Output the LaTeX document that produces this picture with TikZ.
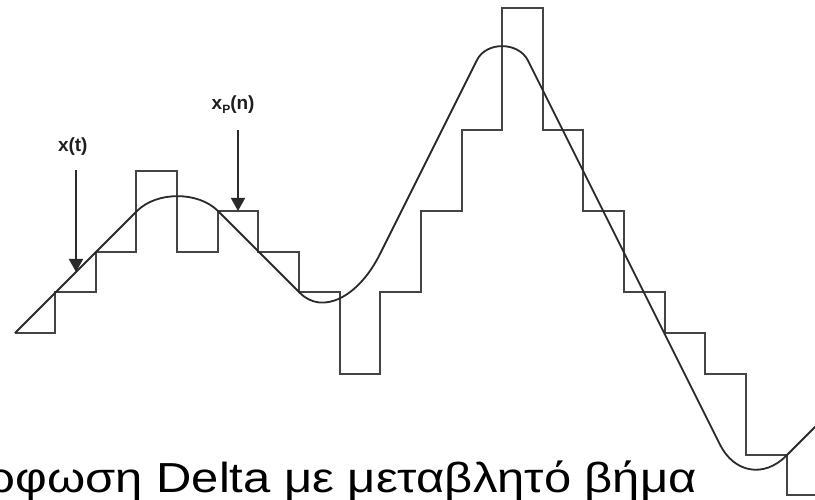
\documentclass[tikz,border=0pt]{standalone}
\usepackage{fontspec}
\setmainfont{Liberation Sans}
\usetikzlibrary{arrows.meta}
\definecolor{stairgray}{HTML}{444444}
\definecolor{curvegray}{HTML}{2A2A2A}
\definecolor{labelblack}{HTML}{1E1E1E}
\begin{document}
\begin{tikzpicture}[x=1pt,y=-1pt,
  stair/.style={draw=stairgray, line width=2pt, line join=miter},
  sig/.style={draw=curvegray, line width=1.8pt},
  lbl/.style={font=\fontsize{19}{22}\selectfont\bfseries, text=labelblack, inner sep=0pt},
  ptr/.style={draw=curvegray, line width=1.5pt, -{Triangle[width=14pt,length=13pt]}},
  caption/.style={font=\fontsize{42}{50}\selectfont, text=black, inner sep=0pt}]
\useasboundingbox (0,0) rectangle (815,500);
\clip (0,0) rectangle (815,500);
\fill[white] (0,0) rectangle (815,500);

% common start point of both signals
\coordinate (start) at (15,333);

% staircase approximation x_P(n)
\begin{scope}[shift={(55,333)}, x=40.65pt, y=40.6pt]
\draw[stair] (start) -- (0,0) -- (0,1) -- (1,1) -- (1,2) -- (2,2) -- (2,4) -- (3,4)
  -- (3,2) -- (4,2) -- (4,3) -- (5,3) -- (5,2) -- (6,2) -- (6,1) -- (7,1) -- (7,-1)
  -- (8,-1) -- (8,1) -- (9,1) -- (9,3) -- (10,3) -- (10,5) -- (11,5) -- (11,8)
  -- (12,8) -- (12,5) -- (13,5) -- (13,3) -- (14,3) -- (14,1) -- (15,1) -- (15,0)
  -- (16,0) -- (16,-1) -- (17,-1) -- (17,-3) -- (18,-3) -- (18,-4) -- (19.5,-4);
\end{scope}

% analog signal x(t)
\draw[sig] (start) -- (137,211)
  .. controls (156.8,191.2) and (198.2,191.2) .. (218,211)
  -- (300,293)
  .. controls (322.2,315.2) and (358.2,297.6) .. (380,254)
  -- (477,60)
  .. controls (486.4,41.2) and (518.5,41.6) .. (528,60.6)
  -- (720,444.6)
  .. controls (734.2,473) and (763.9,478.1) .. (786,456)
  -- (840,402);

% labels and pointers
\coordinate (xtTip) at (76,272);
\coordinate (xpTip) at (238,211);
\node[lbl, anchor=base] (xt) at (72.8,152) {x(t)};
\node[lbl, anchor=base west] (xp) at (211.5,110) {x\raisebox{-4pt}{\fontsize{12}{12}\selectfont P}(n)};
\draw[ptr, shorten <=14pt] (xt.south -| xtTip) -- (xtTip);
\draw[ptr, shorten <=16pt] (xp.south -| xpTip) -- (xpTip);

% caption (cut at the left edge, as in the reference)
\node[caption, anchor=base east] (cap) at (697,492) {\scalebox{1.165}[1]{Διαμόρφωση Delta με μεταβλητό βήμα}};
\end{tikzpicture}
\end{document}
